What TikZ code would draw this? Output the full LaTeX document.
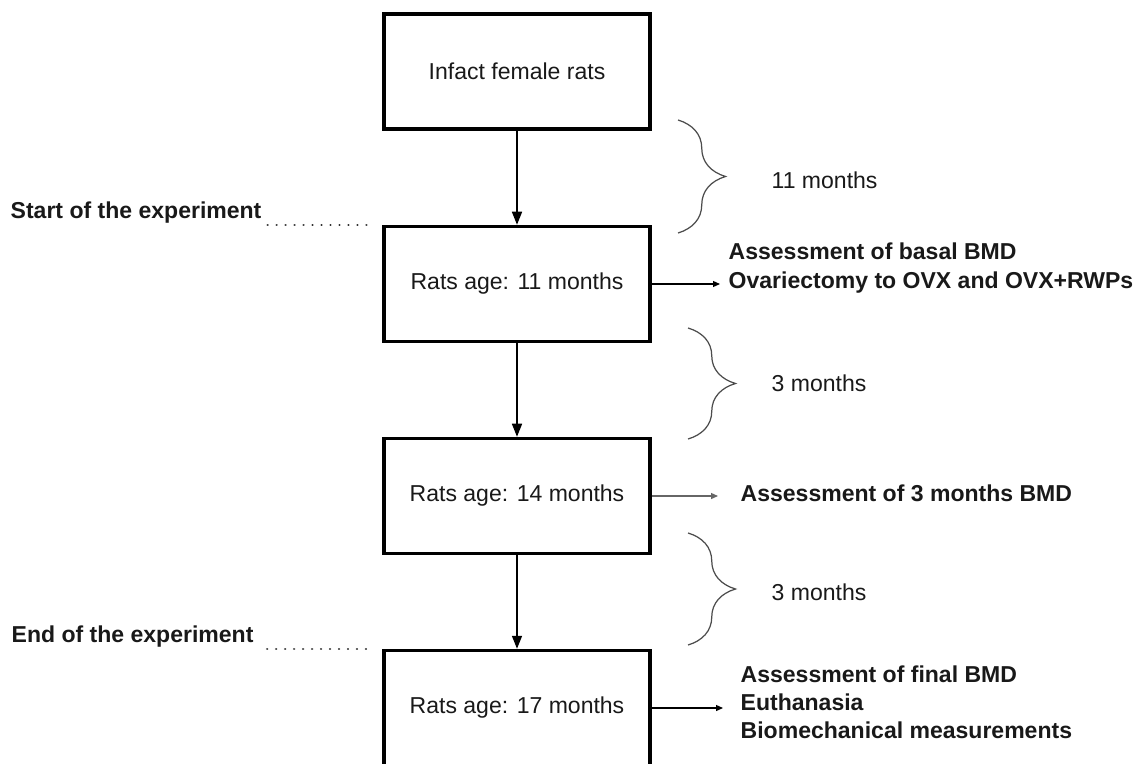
\documentclass[tikz,border=0pt]{standalone}
\usepackage{fontspec}
\setmainfont{Liberation Sans}
\usetikzlibrary{arrows.meta,decorations.pathreplacing}
\newcommand\picfont{\fontsize{13.1}{16}\selectfont}
\tikzset{
  stage/.style={draw,line width=2pt,minimum width=5.32cm,minimum height=2.3cm},
  down/.style={line width=0.9pt,-{Triangle[length=0.26cm,width=0.2cm]}},
  side/.style={line width=0.7pt,-{Triangle[length=0.14cm,width=0.12cm]}},
  span/.style={decorate,decoration={brace,amplitude=0.95cm},line width=0.7pt,draw=black!70},
  note/.style={font=\picfont\bfseries,align=left,anchor=west},
  dots/.style={line width=1.4pt,dash pattern=on 0.01pt off 5.1pt,line cap=round,draw=black!80}
}
\begin{document}
\begin{tikzpicture}[font=\picfont,text=black!90]
\useasboundingbox (0,0) rectangle (22.9,15.26);
% stages
\foreach \n/\y/\t in {b1/13.83/Infact female rats,
    b2/9.58/Rats age: 11 months,
    b3/5.34/Rats age: 14 months,
    b4/1.10/Rats age: 17 months}{
    \node[stage] (\n) at (10.34,\y) {\t};
}
\foreach \a/\b in {b1/b2,b2/b3,b3/b4}{
    \draw[down] (\a) -- (\b);
}
% time spans
\foreach \x/\top/\bot/\ly/\n/\t in {
    13.56/12.86/10.60/11.66/m1/11 months,
    13.76/8.70/6.48/7.60/m2/3 months,
    13.76/4.60/2.36/3.42/m3/3 months}{
    \draw[span] (\x,\top) -- (\x,\bot);
    \node[anchor=west] (\n) at (15.31,\ly) {\t};
}
% what happens at each stage
\node[note] (t2) at (14.45,9.90) {Assessment of basal BMD\\Ovariectomy to OVX and OVX+RWPs};
\node[note] (t3) at (14.69,5.40) {Assessment of 3 months BMD};
\node[note] (t4) at (14.69,1.22) {Assessment of final BMD\\Euthanasia\\Biomechanical measurements};
\draw[side,shorten >=0.05cm] (b2.east) -- (b2.east -| t2.west);
\draw[side,shorten >=0.33cm,draw=black!60] (b3.east) -- (b3.east -| t3.west);
\draw[side,shorten >=0.23cm] (b4.east) -- (b4.east -| t4.west);
% start and end
\node[note] (st) at (0.09,11.00) {Start of the experiment};
\node[note] (en) at (0.11,2.52) {End of the experiment};
\draw[dots] (st.east |- b2.north) -- ([xshift=-0.2cm]b2.north west);
\draw[dots,shorten <=0.15cm] (en.east |- b4.north) -- ([xshift=-0.2cm]b4.north west);
\end{tikzpicture}
\end{document}
